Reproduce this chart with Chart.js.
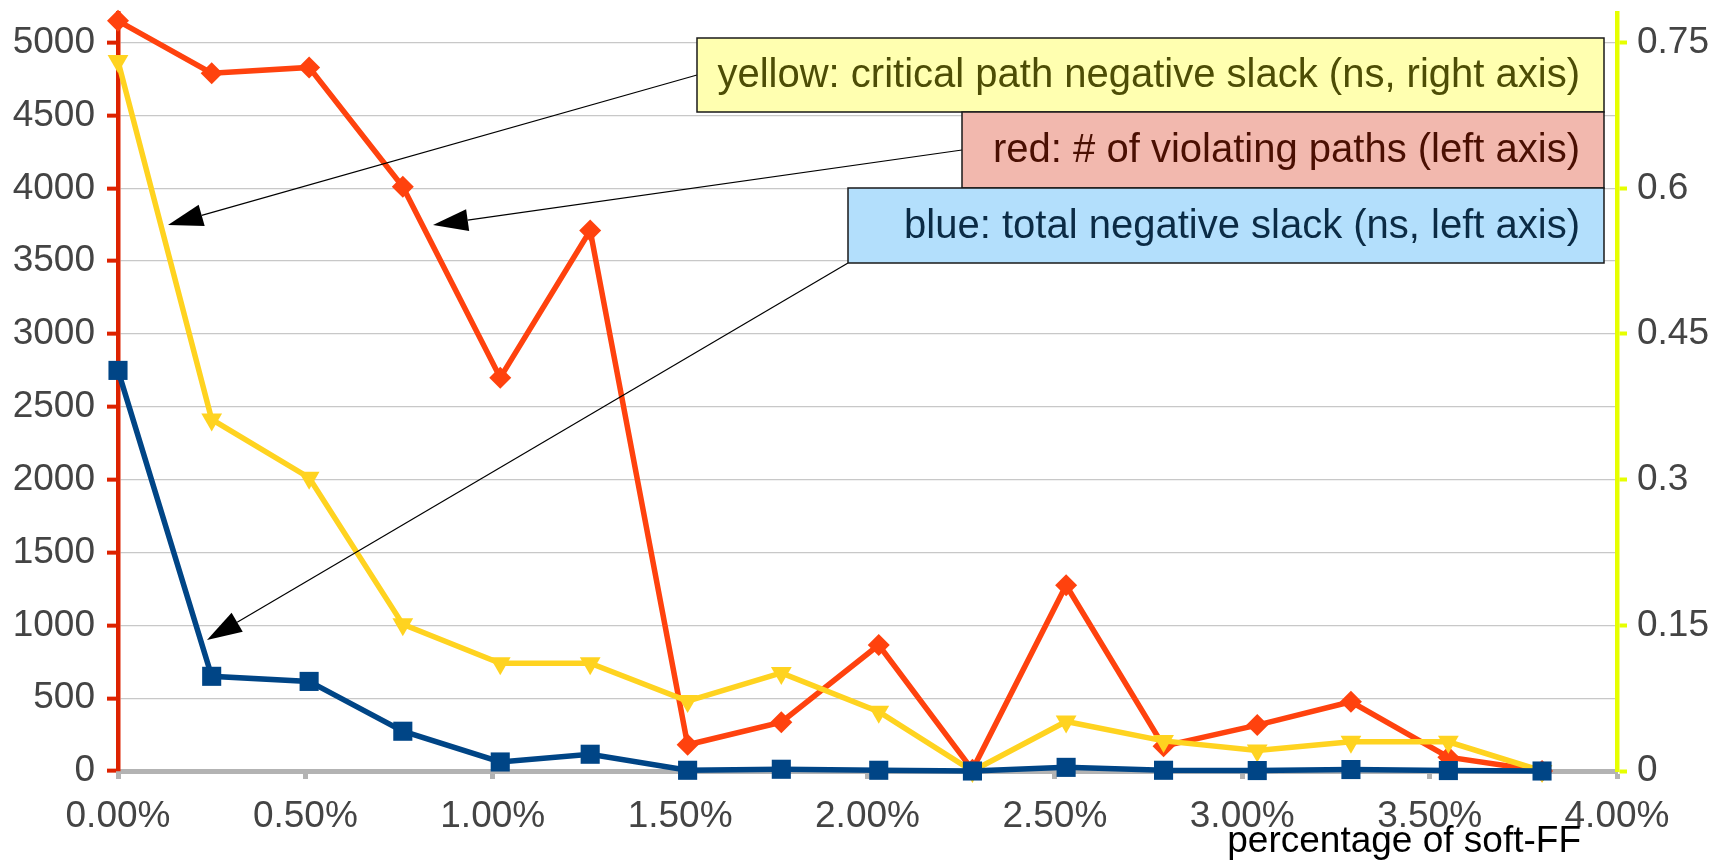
<!DOCTYPE html>
<html>
<head>
<meta charset="utf-8">
<script src="https://cdn.jsdelivr.net/npm/chart.js@4.4.1/dist/chart.umd.min.js"></script>
<style>
  html, body { margin: 0; padding: 0; background: #fff; }
  #wrap { width: 1727px; height: 864px; position: relative; }
</style>
</head>
<body>
<div id="wrap"><canvas id="slackChart"></canvas></div>
<script>
// soft-FF percentage on x, three series
const softFF = [0, 0.25, 0.51, 0.76, 1.02, 1.26, 1.52, 1.77, 2.03, 2.28, 2.53, 2.79, 3.04, 3.29, 3.55, 3.80];
const violatingPaths = [5150, 4790, 4830, 4010, 2700, 3710, 180, 335, 865, 8, 1275, 170, 315, 475, 95, 0];
const totalNegSlack = [2750, 650, 615, 273, 62, 115, 5, 12, 5, 0, 25, 5, 3, 10, 3, 0];
const critNegSlack = [0.731, 0.362, 0.302, 0.151, 0.111, 0.111, 0.072, 0.101, 0.061, 0, 0.051, 0.031, 0.021, 0.03, 0.03, 0];

// tick labels
const leftTickVals = [0, 500, 1000, 1500, 2000, 2500, 3000, 3500, 4000, 4500, 5000];
const rightTickVals = [0, 0.15, 0.3, 0.45, 0.6, 0.75];
const xTickVals = [0, 0.5, 1, 1.5, 2, 2.5, 3, 3.5, 4];
const leftMax = 5200;
const rightMax = 0.78;

const notes = [
  { text: "yellow: critical path negative slack (ns, right axis)", fill: "#ffffb0", color: "#4d4d05", box: [697, 38, 1604, 112], from: [697, 75], tip: [168, 225] },
  { text: "red: # of violating paths (left axis)", fill: "#f2b8ae", color: "#4a0f02", box: [962, 112, 1604, 188], from: [962, 150], tip: [433, 225] },
  { text: "blue: total negative slack (ns, left axis)", fill: "#b3dffc", color: "#0b2b45", box: [848, 188, 1604, 263], from: [848, 263], tip: [207, 640] },
];

const FONT = "'Liberation Sans', Arial, sans-serif";

function pts(ys) {
  return softFF.map((x, i) => ({ x: x, y: ys[i] }));
}

function fixedTicks(vals) {
  return scale => { scale.ticks = vals.map(v => ({ value: v })); };
}

// fixed axis size, and no extra room for overhanging labels
function fitTo(prop, size) {
  return s => {
    s[prop] = size;
    s.paddingTop = 0; s.paddingBottom = 0;
    s.paddingLeft = 0; s.paddingRight = 0;
  };
}

function arrow(ctx, from, tip) {
  const ang = Math.atan2(tip[1] - from[1], tip[0] - from[0]);
  const len = 35, half = 11;
  const bx = tip[0] - Math.cos(ang) * len;
  const by = tip[1] - Math.sin(ang) * len;
  ctx.strokeStyle = "#000";
  ctx.lineWidth = 1.2;
  ctx.beginPath();
  ctx.moveTo(from[0], from[1]);
  ctx.lineTo(bx, by);
  ctx.stroke();
  ctx.fillStyle = "#000";
  ctx.beginPath();
  ctx.moveTo(tip[0], tip[1]);
  ctx.lineTo(bx + Math.sin(ang) * half, by - Math.cos(ang) * half);
  ctx.lineTo(bx - Math.sin(ang) * half, by + Math.cos(ang) * half);
  ctx.closePath();
  ctx.fill();
}

const calloutPlugin = {
  id: "callouts",
  afterDraw(chart) {
    const ctx = chart.ctx;
    ctx.save();
    notes.forEach(n => arrow(ctx, n.from, n.tip));
    notes.forEach(n => {
      const [x0, y0, x1, y1] = n.box;
      ctx.fillStyle = n.fill;
      ctx.fillRect(x0, y0, x1 - x0, y1 - y0);
      ctx.strokeStyle = "#1a1a1a";
      ctx.lineWidth = 1.5;
      ctx.strokeRect(x0, y0, x1 - x0, y1 - y0);
      ctx.fillStyle = n.color;
      ctx.font = "40px " + FONT;
      ctx.textAlign = "right";
      ctx.textBaseline = "middle";
      ctx.fillText(n.text, x1 - 24, (y0 + y1) / 2 + 1);
    });
    // x axis title sits to the right of centre
    const xs = chart.scales.x;
    ctx.fillStyle = "#000";
    ctx.font = "37px " + FONT;
    ctx.textAlign = "right";
    ctx.textBaseline = "alphabetic";
    ctx.fillText("percentage of soft-FF", xs.right - 36, 852);
    ctx.restore();
  }
};

const ctx = document.getElementById("slackChart").getContext("2d");

new Chart(ctx, {
  type: "line",
  data: {
    datasets: [
      {
        label: "total negative slack",
        data: pts(totalNegSlack),
        yAxisID: "y",
        borderColor: "#004586",
        backgroundColor: "#004586",
        borderWidth: 5.5,
        pointStyle: "rect",
        pointRadius: 13.5,
        pointBorderWidth: 0,
        clip: false,
      },
      {
        label: "critical path negative slack",
        data: pts(critNegSlack),
        yAxisID: "y1",
        borderColor: "#ffd320",
        backgroundColor: "#ffd320",
        borderWidth: 5.5,
        pointStyle: "triangle",
        rotation: 180,
        pointRadius: 12,
        pointBorderWidth: 0,
        clip: false,
      },
      {
        label: "# of violating paths",
        data: pts(violatingPaths),
        yAxisID: "y",
        borderColor: "#ff420e",
        backgroundColor: "#ff420e",
        borderWidth: 5.5,
        pointStyle: "rectRot",
        pointRadius: 11,
        pointBorderWidth: 0,
        clip: false,
      },
    ],
  },
  options: {
    responsive: true,
    maintainAspectRatio: false,
    animation: false,
    layout: { padding: { top: 11, left: 0, right: 0, bottom: 0 } },
    plugins: {
      legend: { display: false },
      tooltip: { enabled: false },
    },
    scales: {
      x: {
        type: "linear",
        min: xTickVals[0],
        max: xTickVals[xTickVals.length - 1],
        afterFit: fitTo("height", 93),
        afterBuildTicks: fixedTicks(xTickVals),
        ticks: {
          color: "#444",
          font: { family: FONT, size: 37 },
          padding: 16,
          maxRotation: 0,
          autoSkip: false,
          callback: v => v.toFixed(2) + "%",
        },
        grid: { drawOnChartArea: false, drawTicks: true, tickLength: 8, tickColor: "#b3b3b3", tickWidth: 5 },
        border: { display: true, color: "#b3b3b3", width: 5 },
      },
      y: {
        position: "left",
        min: 0,
        max: leftMax,
        afterFit: fitTo("width", 118),
        afterBuildTicks: fixedTicks(leftTickVals),
        ticks: {
          color: "#444",
          font: { family: FONT, size: 37 },
          padding: 12,
          autoSkip: false,
          callback: v => String(v),
        },
        grid: { color: "#c8c8c8", lineWidth: 1.3, drawTicks: true, tickLength: 11, tickColor: "#dd2200", tickWidth: 4 },
        border: { display: true, color: "#dd2200", width: 4.5 },
      },
      y1: {
        position: "right",
        min: 0,
        max: rightMax,
        afterFit: fitTo("width", 110),
        afterBuildTicks: fixedTicks(rightTickVals),
        ticks: {
          color: "#444",
          font: { family: FONT, size: 37 },
          padding: 10,
          autoSkip: false,
          callback: v => String(Number(v.toFixed(2))),
        },
        grid: { drawOnChartArea: false, drawTicks: true, tickLength: 10, tickColor: "#e6ff00", tickWidth: 4 },
        border: { display: true, color: "#e6ff00", width: 4.5 },
      },
    },
  },
  plugins: [calloutPlugin],
});
</script>
</body>
</html>
